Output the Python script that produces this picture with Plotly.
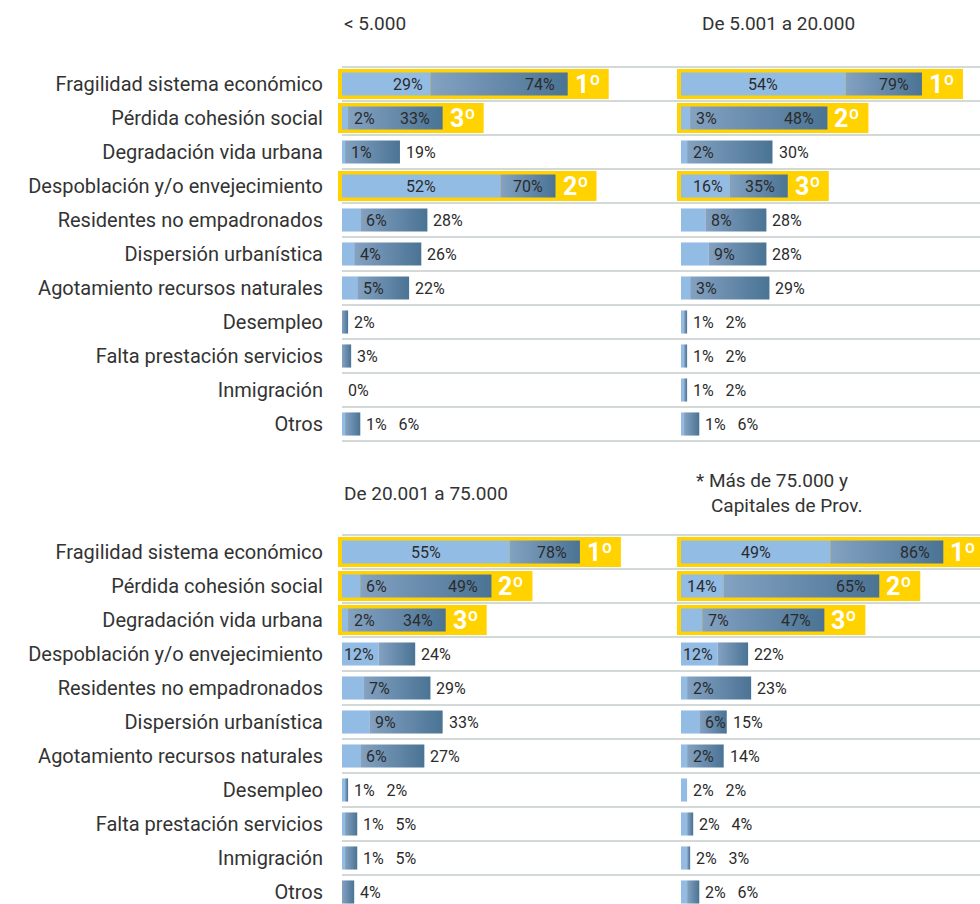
import plotly.graph_objects as go

# Problemas percibidos por tamaño de municipio
CATEGORIES = [
    "Fragilidad sistema económico",
    "Pérdida cohesión social",
    "Degradación vida urbana",
    "Despoblación y/o envejecimiento",
    "Residentes no empadronados",
    "Dispersión urbanística",
    "Agotamiento recursos naturales",
    "Desempleo",
    "Falta prestación servicios",
    "Inmigración",
    "Otros",
]

TITLE_1 = "< 5.000"
LIGHT_1 = [29, 2, 1, 52, 6, 4, 5, None, None, None, 1]
DARK_1 = [74, 33, 19, 70, 28, 26, 22, 2, 3, 0, 6]

TITLE_2 = "De 5.001 a 20.000"
LIGHT_2 = [54, 3, 2, 16, 8, 9, 3, 1, 1, 1, 1]
DARK_2 = [79, 48, 30, 35, 28, 28, 29, 2, 2, 2, 6]

TITLE_3 = "De 20.001 a 75.000"
LIGHT_3 = [55, 6, 2, 12, 7, 9, 6, 1, 1, 1, None]
DARK_3 = [78, 49, 34, 24, 29, 33, 27, 2, 5, 5, 4]

TITLE_4a = "* Más de 75.000 y"
TITLE_4b = "Capitales de Prov."
LIGHT_4 = [49, 14, 7, 12, 2, 6, 2, 2, 2, 2, 2]
DARK_4 = [86, 65, 47, 22, 23, 15, 14, 2, 4, 3, 6]

RANKS = ["1º", "2º", "3º"]

# styling
W, H = 980, 904
PX = 3.05                # pixels per percent
ROW = 34                 # pixels per row
LIGHT = "#93BCE5"
GRAD = [[0, "#84A2C2"], [1, "#4A7394"]]
YELLOW = "#FFD200"
SEP = "#D3D9D9"
FONT = "Roboto"
TXT = "#2b2b2b"
BAR_H = 0.34


def fx(x):
    return x / W


def fy(y):
    return 1 - y / H


# (light, dark, left px, zero px, right px, top px, first row centre, bottom px)
panels = [
    (LIGHT_1, DARK_1, 334, 342, 672, 60, 84, 445),
    (LIGHT_2, DARK_2, 672, 681, 980, 60, 84, 445),
    (LIGHT_3, DARK_3, 334, 342, 672, 530, 552, 904),
    (LIGHT_4, DARK_4, 672, 681, 980, 530, 552, 904),
]

fig = go.Figure()
shapes = []
annotations = []
n = len(CATEGORIES)
rows = list(range(n))

for k, (light, dark, left, zero, right, top, c0, bottom) in enumerate(panels):
    sfx = "" if k == 0 else str(k + 1)
    xa, ya = "x" + sfx, "y" + sfx

    fig.layout["xaxis" + sfx] = dict(
        domain=[fx(left), fx(right)], range=[(left - zero) / PX, (right - zero) / PX],
        visible=False, anchor=ya, fixedrange=True)
    fig.layout["yaxis" + sfx] = dict(
        domain=[fy(bottom), fy(top)],
        range=[(bottom - c0) / ROW, (top - c0) / ROW],
        anchor=xa, tickvals=rows, ticktext=CATEGORIES,
        showticklabels=(k % 2 == 0), ticks="", ticklabelstandoff=10,
        showgrid=False, zeroline=False, showline=False,
        tickfont=dict(family=FONT, size=20, color="#333333"), fixedrange=True)

    # top three by total
    order = sorted(rows, key=lambda i: dark[i], reverse=True)[:3]
    rank = {i: r for r, i in enumerate(order)}

    # separator lines across both panels of the row band
    if k % 2 == 0:
        for i in range(n + 1):
            shapes.append(dict(type="line", xref="paper", yref=ya,
                               x0=fx(342), x1=1, y0=i - 0.5, y1=i - 0.5,
                               line=dict(color=SEP, width=2), layer="below"))

    # light bars
    fig.add_trace(go.Bar(
        x=[v if v is not None else 0 for v in light], y=rows, orientation="h",
        width=2 * BAR_H, marker=dict(color=LIGHT, line=dict(width=0)),
        xaxis=xa, yaxis=ya, hoverinfo="skip", showlegend=False))

    for i in rows:
        v1 = light[i] if light[i] is not None else 0
        v2 = dark[i]
        # dark gradient bar from light end to total
        if v2 > v1:
            fig.add_trace(go.Scatter(
                x=[v1, v2, v2, v1, v1],
                y=[i - BAR_H, i - BAR_H, i + BAR_H, i + BAR_H, i - BAR_H],
                mode="lines", fill="toself", line=dict(width=0),
                fillgradient=dict(type="horizontal", colorscale=GRAD),
                xaxis=xa, yaxis=ya, hoverinfo="skip", showlegend=False))

        lbl = dict(xref=xa, yref=ya, y=i, showarrow=False,
                   font=dict(family=FONT, size=16, color=TXT))
        if i in rank:
            shapes.append(dict(type="rect", xref=xa, yref=ya, layer="below",
                               x0=-4 / PX, x1=v2 + 41 / PX, y0=i - 0.44, y1=i + 0.44,
                               fillcolor=YELLOW, line=dict(width=0)))
            annotations.append(dict(xref=xa, yref=ya, x=v2, y=i, xanchor="left",
                                    xshift=5, showarrow=False, text="<b>%s</b>" % RANKS[rank[i]],
                                    font=dict(family=FONT, size=25, color="white")))
            annotations.append(dict(lbl, x=v2, xanchor="right", xshift=-11, text="%d%%" % v2))
            if v1 >= 40:
                annotations.append(dict(lbl, x=v1 / 2, xanchor="center", text="%d%%" % v1))
            elif v1 >= 10:
                annotations.append(dict(lbl, x=v1, xanchor="right", xshift=-5, text="%d%%" % v1))
            else:
                annotations.append(dict(lbl, x=v1, xanchor="left", xshift=4, text="%d%%" % v1))
        elif light[i] is None:
            annotations.append(dict(lbl, x=v2, xanchor="left", xshift=4, text="%d%%" % v2))
        elif v2 - v1 >= 8:
            if v1 >= 10:
                annotations.append(dict(lbl, x=v1, xanchor="right", xshift=-3, text="%d%%" % v1))
            else:
                annotations.append(dict(lbl, x=v1, xanchor="left", xshift=4, text="%d%%" % v1))
            annotations.append(dict(lbl, x=v2, xanchor="left", xshift=4, text="%d%%" % v2))
        else:
            annotations.append(dict(lbl, x=max(v1, v2), xanchor="left", xshift=4,
                                    text="%d%%   %d%%" % (v1, v2)))

# panel titles
tfont = dict(family=FONT, size=19, color="#333333")
for txt, x, y in [(TITLE_1, 342, 23), (TITLE_2, 700, 23), (TITLE_3, 342, 493),
                  (TITLE_4a, 694, 481), (TITLE_4b, 709, 505)]:
    annotations.append(dict(xref="paper", yref="paper", x=fx(x), y=fy(y),
                            xanchor="left", yanchor="middle", showarrow=False,
                            text=txt, font=tfont))

fig.update_layout(
    width=W, height=H, margin=dict(l=0, r=0, t=0, b=0),
    paper_bgcolor="white", plot_bgcolor="white",
    barmode="overlay", showlegend=False,
    shapes=shapes, annotations=annotations,
)

# drop the default page margin so the figure fills the window exactly
fig.write_html("out.html", config={"displayModeBar": False},
               post_script="document.body.style.margin='0';document.body.style.overflow='hidden';")
